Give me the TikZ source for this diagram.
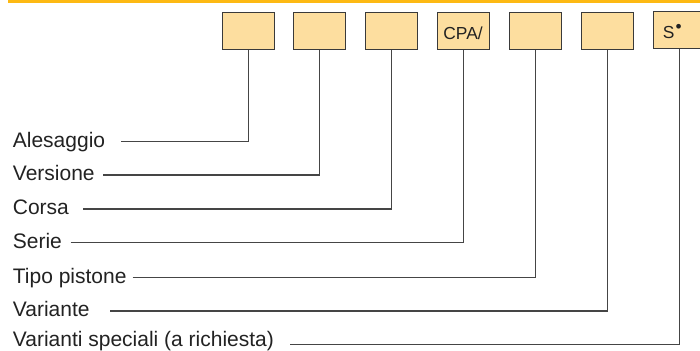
\documentclass[tikz,border=0pt]{standalone}
\usepackage{fontspec}
\setmainfont{Liberation Sans}
\definecolor{band}{HTML}{FDB913}
\definecolor{boxfill}{HTML}{FDDE9F}
\definecolor{boxline}{HTML}{3A3A3A}
\definecolor{wire}{HTML}{454545}
\definecolor{ink}{HTML}{222222}
\begin{document}
\begin{tikzpicture}[x=0.5pt,y=-0.5pt,
  codebox/.style={draw=boxline,line width=0.5pt,fill=boxfill,minimum width=26pt,minimum height=18.5pt,inner sep=0pt,anchor=north west},
  lbl/.style={anchor=base west,inner sep=0pt,text=ink,font=\fontsize{10.5pt}{12pt}\selectfont},
  boxtxt/.style={anchor=base west,inner sep=0pt,text=ink,font=\fontsize{8.7pt}{10pt}\selectfont},
  wireline/.style={draw=wire,line width=0.55pt}]
\useasboundingbox (0,0) rectangle (700,351);
\fill[band] (8,0) rectangle (700,3.2);
% boxes
\node[codebox] (b1) at (221.7,11.7) {};
\node[codebox] (b2) at (293.3,11.7) {};
\node[codebox] (b3) at (365,11.7) {};
\node[codebox] (b4) at (437,11.7) {};
\node[codebox] (b5) at (509,11.7) {};
\node[codebox] (b6) at (580.7,11.7) {};
\node[codebox] (b7) at (652.7,11) {};
\node[boxtxt] (t4) at (443,39.3) {CPA/};
\node[boxtxt] (t7) at (662.5,39) {S\hspace{0.6pt}\raisebox{3pt}{•}};
% labels
\node[lbl] (l1) at (12.5,147.2) {Alesaggio};
\node[lbl] (l2) at (12.5,180.5) {Versione};
\node[lbl] (l3) at (12.5,214.5) {Corsa};
\node[lbl] (l4) at (12.5,248.2) {Serie};
\node[lbl] (l5) at (12.5,283.2) {Tipo pistone};
\node[lbl] (l6) at (12.5,316.5) {Variante};
\node[lbl] (l7) at (12.5,346.3) {Varianti speciali (a richiesta)};
% line starts
\coordinate (s1) at (121,141.7);
\coordinate (s2) at (103,175);
\coordinate (s3) at (83,209);
\coordinate (s4) at (70.7,242.7);
\coordinate (s5) at (132.7,277.7);
\coordinate (s6) at (110,311);
\coordinate (s7) at (290,344.5);
% connectors
\draw[wireline] (s1) -| (b1.south);
\draw[wireline] (s2) -| (b2.south);
\draw[wireline] (s3) -| (b3.south);
\draw[wireline] (s4) -| (b4.south);
\draw[wireline] (s5) -| (b5.south);
\draw[wireline] (s6) -| (b6.south);
\draw[wireline] (s7) -| (b7.south);
\end{tikzpicture}
\end{document}
